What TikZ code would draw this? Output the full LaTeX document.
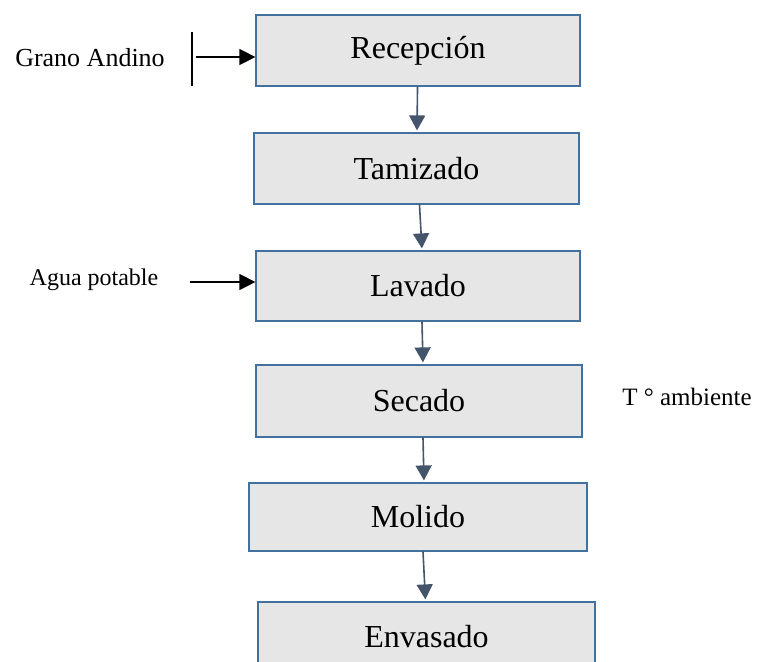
\documentclass[tikz,border=0pt]{standalone}
\usepackage{fontspec}
\setmainfont{Liberation Serif}
\usetikzlibrary{arrows.meta}
\definecolor{boxline}{HTML}{41719C}
\definecolor{boxfill}{HTML}{E7E6E6}
\definecolor{flujo}{HTML}{44546A}
\begin{document}
\begin{tikzpicture}[x=0.5pt, y=-0.5pt]
    \tikzstyle{paso} = [draw=boxline, fill=boxfill, line width=0.6pt, inner sep=0pt, font=\fontsize{16}{19}\selectfont]
    \tikzstyle{flecha} = [draw=flujo, line width=0.8pt, shorten >=1pt, -{Triangle[length=7.5pt, width=8pt, fill=flujo]}]
    \tikzstyle{entrada} = [draw=black, line width=0.6pt, -{Triangle[length=8pt, width=8pt]}]
    \useasboundingbox (0, 0) rectangle (762, 661);
    \clip (0, 0) rectangle (762, 661);
    \node (rec) at (418, 50.5) [paso, minimum width=162pt, minimum height=35.5pt] {Recepción};
    \node (tam) at (416.5, 168.5) [paso, minimum width=162.5pt, minimum height=35.5pt] {Tamizado};
    \node (lav) at (418, 286) [paso, minimum width=162pt, minimum height=35pt] {Lavado};
    \node (sec) at (419, 401) [paso, minimum width=163pt, minimum height=36pt] {Secado};
    \node (mol) at (418, 517) [paso, minimum width=169pt, minimum height=34pt] {Molido};
    \node (env) at (426.5, 637) [paso, minimum width=168.5pt, minimum height=35pt] {Envasado};
    \draw[flecha] (rec) -- (tam);
    \draw[flecha] ([xshift=1.5pt]tam.south) -- ([xshift=2pt]lav.north);
    \draw[flecha] ([xshift=2pt]lav.south) -- ([xshift=2pt]sec.north);
    \draw[flecha] ([xshift=2pt]sec.south) -- ([xshift=3pt]mol.north);
    \draw[flecha] ([xshift=2.5pt]mol.south) -- ([xshift=-0.5pt]env.north);
    % entradas laterales
    \node (grano) at (90, 58) [font=\fontsize{13}{15}\selectfont] {Grano Andino};
    \coordinate (tope) at (192, 32);
    \coordinate (base) at (192, 86);
    \draw[line width=0.6pt] (tope) -- (base);
    \coordinate (ga) at (196, 57);
    \draw[entrada] (ga) -- (ga -| rec.west);
    \node (agua) at (94, 280) [font=\fontsize{12}{14}\selectfont] {Agua potable};
    \coordinate (ap) at (190, 282);
    \draw[entrada] (ap) -- (ap -| lav.west);
    \node (temp) at (687, 397) [font=\fontsize{12.5}{15}\selectfont] {T ° ambiente};
\end{tikzpicture}
\end{document}
